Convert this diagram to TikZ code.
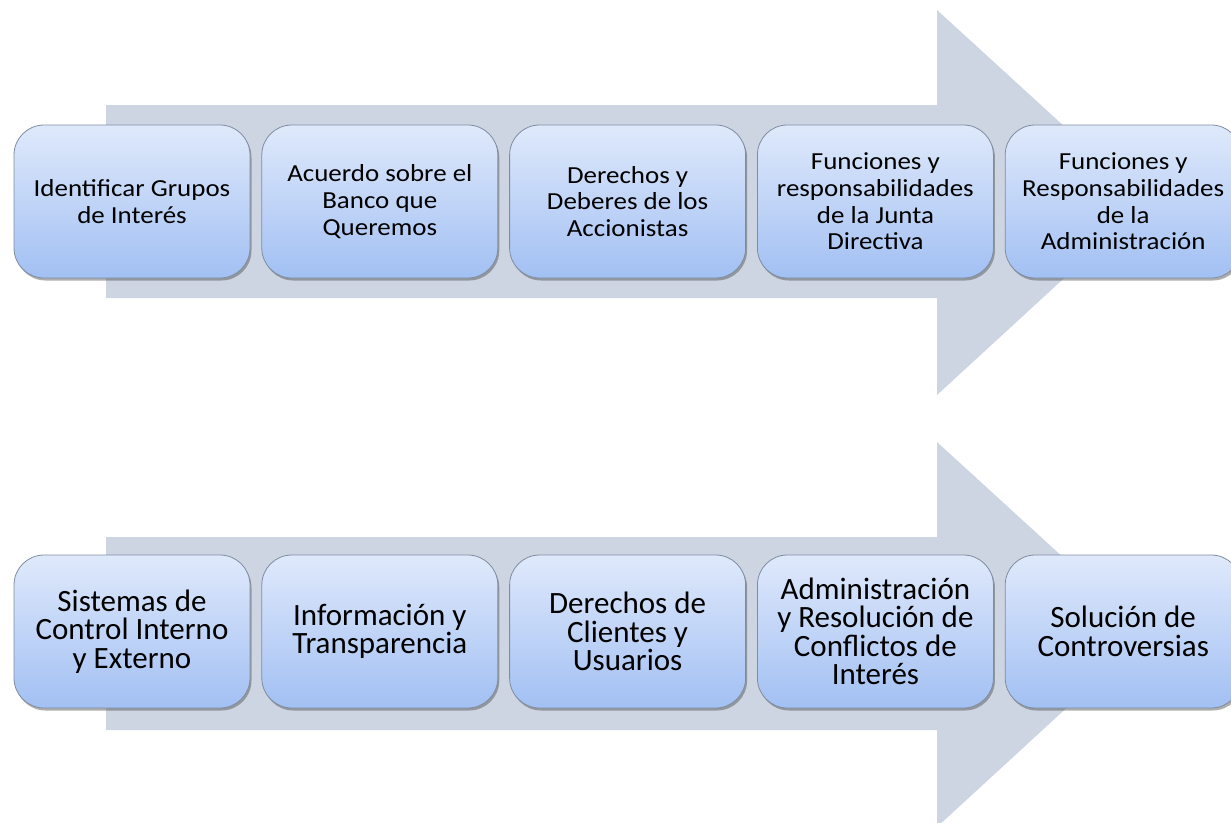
\documentclass[tikz,border=0pt]{standalone}
\usepackage{fontspec}
\setmainfont{Carlito}
\newfontfamily\widefont[FakeStretch=1.1]{Carlito}
\usetikzlibrary{positioning,shadows}

\definecolor{arrowgray}{HTML}{CDD5E3}
\definecolor{boxtop}{HTML}{DFE9FB}
\definecolor{boxbottom}{HTML}{A2C0F3}
\definecolor{boxline}{HTML}{7F8CA0}

\tikzset{
  stagebox/.style={rectangle, rounded corners=30pt, draw=boxline, line width=0.8pt,
    top color=boxtop, bottom color=boxbottom,
    minimum width=236pt, minimum height=153pt, inner sep=2pt, align=center,
    drop shadow={shadow xshift=1.5pt, shadow yshift=-2.5pt, opacity=0.45, fill=black!70}},
  topbox/.style={stagebox, font=\widefont\fontsize{24.5}{26.7}\selectfont},
  lowbox/.style={stagebox, font=\fontsize{31}{28.5}\selectfont},
  bigarrow/.style={fill=arrowgray}
}

\begin{document}
\begin{tikzpicture}[x=1pt, y=-1pt]

    % --- Page frame ---
    \useasboundingbox (0,0) rectangle (1231,822);
    \clip (0,0) rectangle (1231,822);

    % --- Coordinates ---
    % Top arrow (shaft 105-298, head 10-395)
    \coordinate (A1) at (106,105);
    \coordinate (A2) at (937,105);
    \coordinate (A3) at (937,10);
    \coordinate (A4) at (1147,202);
    \coordinate (A5) at (937,395);
    \coordinate (A6) at (937,298);
    \coordinate (A7) at (106,298);

    % Bottom arrow (shaft 537-730, head 442-827)
    \coordinate (B1) at (106,537);
    \coordinate (B2) at (937,537);
    \coordinate (B3) at (937,442);
    \coordinate (B4) at (1147,634);
    \coordinate (B5) at (937,827);
    \coordinate (B6) at (937,730);
    \coordinate (B7) at (106,730);

    % --- Arrows ---
    \fill[bigarrow] (A1) -- (A2) -- (A3) -- (A4) -- (A5) -- (A6) -- (A7) -- cycle;
    \fill[bigarrow] (B1) -- (B2) -- (B3) -- (B4) -- (B5) -- (B6) -- (B7) -- cycle;

    % --- Top row of boxes ---
    \node[topbox] (t1) at (132,201.5) {Identificar Grupos\\de Interés};
    \node[topbox, right=11pt of t1] (t2) {Acuerdo sobre el\\Banco que\\Queremos};
    \node[topbox, right=11pt of t2] (t3) {Derechos y\\Deberes de los\\Accionistas};
    \node[topbox, right=11pt of t3] (t4) {Funciones y\\responsabilidades\\de la Junta\\Directiva};
    \node[topbox, right=11pt of t4] (t5) {Funciones y\\Responsabilidades\\de la\\Administración};

    % --- Bottom row of boxes ---
    \node[lowbox] (b1) at (132,631.5) {Sistemas de\\Control Interno\\y Externo};
    \node[lowbox, right=11pt of b1] (b2) {Información y\\Transparencia};
    \node[lowbox, right=11pt of b2] (b3) {Derechos de\\Clientes y\\Usuarios};
    \node[lowbox, right=11pt of b3] (b4) {Administración\\y Resolución de\\Conflictos de\\Interés};
    \node[lowbox, right=11pt of b4] (b5) {Solución de\\Controversias};

\end{tikzpicture}
\end{document}
